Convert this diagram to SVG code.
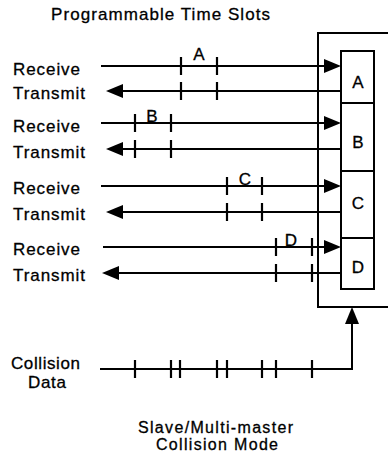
<svg xmlns="http://www.w3.org/2000/svg" width="388" height="459" viewBox="0 0 388 459">
  <style>
    text { font-family: "Liberation Sans", Arial, sans-serif; font-size: 17px; fill: #000; stroke: #000; stroke-width: 0.3; }
    .mid { text-anchor: middle; }
    .cap { font-size: 16px; }
    .box { fill: #fff; stroke: #000; stroke-width: 2; }
    .wire { fill: none; stroke: #000; stroke-width: 2; }
    .tick { fill: none; stroke: #000; stroke-width: 2.2; }
  </style>
  <defs>
    <marker id="arrow" markerUnits="userSpaceOnUse" markerWidth="18" markerHeight="14" refX="9" refY="7" orient="auto">
      <path d="M0,0 L17,7 L0,14 Z" fill="#000"/>
    </marker>
  </defs>
  <rect width="388" height="459" fill="#fff"/>

  <text id="title" x="51" y="20" textLength="219" lengthAdjust="spacing">Programmable Time Slots</text>

  <g id="controller">
    <rect class="box" x="318" y="33" width="100" height="274"/>
  </g>
  <g id="slot-a">
    <rect class="box" x="341" y="51" width="33" height="52"/>
    <text class="mid" x="358" y="88">A</text>
  </g>
  <g id="slot-b">
    <rect class="box" x="341" y="103" width="33" height="68"/>
    <text class="mid" x="358" y="148">B</text>
  </g>
  <g id="slot-c">
    <rect class="box" x="341" y="171" width="33" height="67"/>
    <text class="mid" x="358" y="209">C</text>
  </g>
  <g id="slot-d">
    <rect class="box" x="341" y="238" width="33" height="51"/>
    <text class="mid" x="358" y="273">D</text>
  </g>

  <g id="labels">
    <text x="13" y="75" textLength="67" lengthAdjust="spacing">Receive</text>
    <text x="13" y="99" textLength="72" lengthAdjust="spacing">Transmit</text>
    <text x="13" y="132" textLength="67" lengthAdjust="spacing">Receive</text>
    <text x="13" y="158" textLength="72" lengthAdjust="spacing">Transmit</text>
    <text x="13" y="194" textLength="67" lengthAdjust="spacing">Receive</text>
    <text x="13" y="220" textLength="72" lengthAdjust="spacing">Transmit</text>
    <text x="13" y="255" textLength="67" lengthAdjust="spacing">Receive</text>
    <text x="13" y="281" textLength="72" lengthAdjust="spacing">Transmit</text>
    <text x="11" y="369" textLength="69" lengthAdjust="spacing">Collision</text>
    <text x="28" y="388" textLength="38" lengthAdjust="spacing">Data</text>
    <text class="cap" x="138" y="433" textLength="155" lengthAdjust="spacing">Slave/Multi-master</text>
    <text class="cap" x="156" y="450" textLength="122" lengthAdjust="spacing">Collision Mode</text>
  </g>

  <g id="slot-labels">
    <text class="mid" x="199" y="60">A</text>
    <text class="mid" x="152" y="122">B</text>
    <text class="mid" x="245" y="185">C</text>
    <text class="mid" x="291" y="246">D</text>
  </g>

  <g id="connectors">
    <line class="wire" x1="101" y1="66" x2="333" y2="66" marker-end="url(#arrow)"/>
    <line class="wire" x1="341" y1="91" x2="114" y2="91" marker-end="url(#arrow)"/>
    <line class="wire" x1="101" y1="123" x2="333" y2="123" marker-end="url(#arrow)"/>
    <line class="wire" x1="341" y1="149" x2="114" y2="149" marker-end="url(#arrow)"/>
    <line class="wire" x1="101" y1="186" x2="333" y2="186" marker-end="url(#arrow)"/>
    <line class="wire" x1="341" y1="212" x2="114" y2="212" marker-end="url(#arrow)"/>
    <line class="wire" x1="103" y1="247" x2="333" y2="247" marker-end="url(#arrow)"/>
    <line class="wire" x1="341" y1="273" x2="110" y2="273" marker-end="url(#arrow)"/>
    <path class="wire" d="M100,369 H352 V315" marker-end="url(#arrow)"/>
  </g>

  <g id="ticks">
    <path class="tick" d="M181,57 V75 M217,57 V75 M181,82 V100 M217,82 V100"/>
    <path class="tick" d="M135,114 V132 M171,114 V132 M135,140 V158 M171,140 V158"/>
    <path class="tick" d="M227,177 V195 M262,177 V195 M227,203 V221 M262,203 V221"/>
    <path class="tick" d="M276,238 V256 M312,238 V256 M276,264 V282 M312,264 V282"/>
    <path class="tick" d="M135,360 V378 M171,360 V378 M180,360 V378 M217,360 V378 M227,360 V378 M262,360 V378 M276,360 V378 M312,360 V378"/>
  </g>
</svg>
